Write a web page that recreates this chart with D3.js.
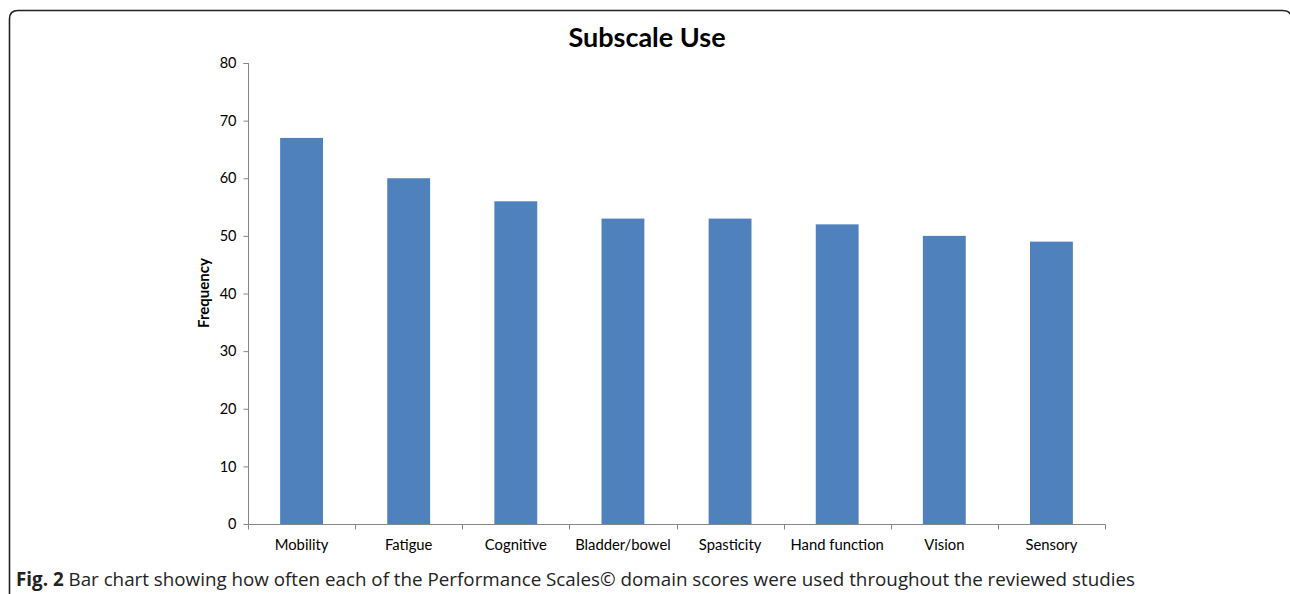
<!DOCTYPE html>
<html><head><meta charset="utf-8">
<script src="https://cdn.jsdelivr.net/npm/d3@7"></script>
<style>body{margin:0;background:#fff;}svg{display:block;}</style>
</head><body>
<svg id="c" width="1290" height="594"></svg>
<script>
const categories = ["Mobility","Fatigue","Cognitive","Bladder/bowel","Spasticity","Hand function","Vision","Sensory"];
const values = [67,60,56,53,53,52,50,49];
const yTicks = [0,10,20,30,40,50,60,70,80];
const titleText = "Subscale Use";
const yLabel = "Frequency";

const svg = d3.select("#c");
// frame
svg.append("path")
  .attr("d","M9.5,600 L9.5,19 Q9.5,10.5 18,10.5 L1282,10.5 Q1289,10.5 1290,14")
  .attr("fill","none").attr("stroke","#222").attr("stroke-width",1.6);

const x = d3.scaleBand().domain(categories).range([248,1105]).paddingInner(0.6).paddingOuter(0.3);
const y = d3.scaleLinear().domain([0,80]).range([524,63]);
const axisColor = "#868686";
const font = "Lato, 'Open Sans', sans-serif";

// bars
svg.append("g").selectAll("rect").data(values).join("rect")
  .attr("x",(d,i)=>x(categories[i])).attr("width",x.bandwidth())
  .attr("y",d=>y(d)).attr("height",d=>y(0)-y(d)).attr("fill","#4f81bd");

// y axis
const ya = svg.append("g").attr("transform","translate(248.5,0)")
  .call(d3.axisLeft(y).tickValues(yTicks).tickSize(5).tickPadding(7));
ya.select(".domain").attr("stroke",axisColor).attr("d","M-5,63.5H0V524.5");
ya.selectAll(".tick line").attr("stroke",axisColor);
ya.selectAll(".tick text").attr("font-family",font).attr("font-size",14.5).attr("fill","#000");

// x axis
const xa = svg.append("g").attr("transform","translate(0,524.5)")
  .call(d3.axisBottom(x).tickSize(0).tickPadding(15));
xa.select(".domain").attr("stroke",axisColor).attr("d","M248.5,0H1105.5");
xa.selectAll(".tick text").attr("font-family",font).attr("font-size",14.8).attr("fill","#000");
const bounds = categories.map(c=>x(c)-x.step()*x.paddingInner()/2).concat([1105]);
xa.selectAll("line.bt").data(bounds).join("line").attr("class","bt")
  .attr("x1",d=>Math.round(d)+0.5).attr("x2",d=>Math.round(d)+0.5)
  .attr("y1",0).attr("y2",5).attr("stroke",axisColor);

// title
svg.append("text").attr("x",647).attr("y",47).attr("text-anchor","middle")
  .attr("font-family",font).attr("font-weight","bold").attr("font-size",27).text(titleText);
// y label
svg.append("text").attr("transform","translate(209,293) rotate(-90)").attr("text-anchor","middle")
  .attr("font-family",font).attr("font-weight","bold").attr("font-size",15).text(yLabel);
// caption
const cap = svg.append("text").attr("x",16).attr("y",586)
  .attr("font-family","'Open Sans', sans-serif").attr("font-size",18.8).attr("fill","#222");
cap.append("tspan").attr("font-weight","bold").text("Fig. 2");
cap.append("tspan").text(" Bar chart showing how often each of the Performance Scales© domain scores were used throughout the reviewed studies");
</script>
</body></html>
